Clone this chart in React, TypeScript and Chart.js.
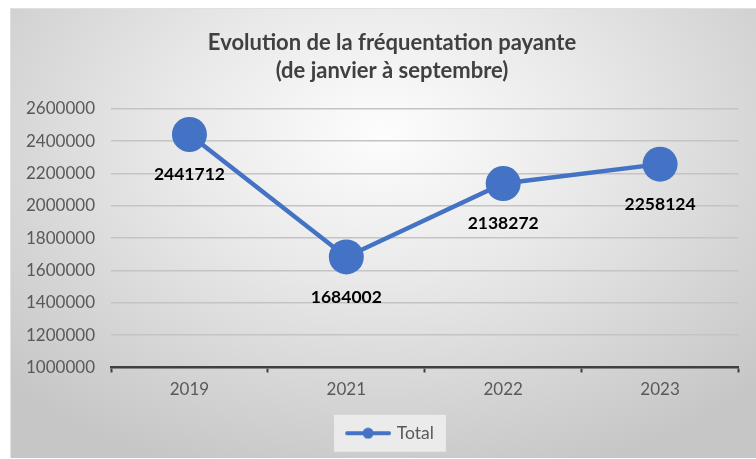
import React, { useEffect, useRef } from "react";
import { Chart, registerables } from "chart.js";

Chart.register(...registerables);

const categories = ["2019", "2021", "2022", "2023"];
const totalValues = [2441712, 1684002, 2138272, 2258124];
const seriesLabel = "Total";
const titleLines = ["Evolution de la fréquentation payante", "(de janvier à septembre)"];
const yMin = 1000000;
const yMax = 2600000;
const yStep = 200000;

const BLUE = "#4472C4";
const FONT = "Lato, 'Open Sans', sans-serif";
const ICON_PAD = 24;
const TITLE_SHIFT = 26;

function makeLegendIcon(): HTMLCanvasElement {
  const c = document.createElement("canvas");
  c.width = 46 + ICON_PAD;
  c.height = 12;
  const ctx = c.getContext("2d")!;
  ctx.strokeStyle = BLUE;
  ctx.lineWidth = 4;
  ctx.lineCap = "round";
  ctx.beginPath();
  ctx.moveTo(ICON_PAD + 2, 6);
  ctx.lineTo(ICON_PAD + 44, 6);
  ctx.stroke();
  ctx.fillStyle = BLUE;
  ctx.beginPath();
  ctx.arc(ICON_PAD + 23, 6, 5.5, 0, Math.PI * 2);
  ctx.fill();
  return c;
}

const dataLabelPlugin = {
  id: "dataLabelsBelow",
  afterDatasetsDraw(chart: any) {
    const ctx = chart.ctx;
    const meta = chart.getDatasetMeta(0);
    ctx.save();
    ctx.font = `bold 17.5px ${FONT}`;
    ctx.fillStyle = "#000000";
    ctx.textAlign = "center";
    ctx.textBaseline = "middle";
    meta.data.forEach((pt: any, i: number) => {
      const v = chart.data.datasets[0].data[i];
      ctx.fillText(String(v), pt.x, pt.y + 40);
    });
    ctx.restore();
  },
};

const titleShiftPlugin = {
  id: "titleShift",
  afterLayout(chart: any) {
    const t = chart.titleBlock;
    if (t) t.left = t.left + TITLE_SHIFT;
  },
};

const legendBgPlugin = {
  id: "legendBg",
  beforeDraw(chart: any) {
    const lg = chart.legend;
    if (!lg || !lg.legendHitBoxes || !lg.legendHitBoxes.length) return;
    const hb = lg.legendHitBoxes[0];
    const ctx = chart.ctx;
    ctx.save();
    ctx.fillStyle = "rgba(240,240,240,0.85)";
    const left = hb.left + ICON_PAD - 14;
    const w = hb.width - ICON_PAD + 26;
    ctx.fillRect(left, hb.top + hb.height / 2 - 18.5, w, 37);
    ctx.restore();
  },
};

export default function App() {
  const ref = useRef<HTMLCanvasElement | null>(null);

  useEffect(() => {
    if (!ref.current) return;
    const icon = makeLegendIcon();
    const chart = new Chart(ref.current, {
      type: "line",
      data: {
        labels: categories,
        datasets: [
          {
            label: seriesLabel,
            data: totalValues,
            borderColor: BLUE,
            backgroundColor: BLUE,
            borderWidth: 4.5,
            pointRadius: 17.5,
            pointHoverRadius: 17.5,
            pointBackgroundColor: BLUE,
            pointBorderWidth: 0,
            pointStyle: "circle",
            tension: 0,
          },
        ],
      },
      options: {
        animation: false,
        responsive: false,
        maintainAspectRatio: false,
        layout: { padding: { left: 0, right: 9, top: 0, bottom: 6 } },
        plugins: {
          title: {
            display: true,
            text: titleLines,
            color: "#404040",
            font: { family: FONT, size: 22, weight: "bold", lineHeight: 1.27 },
            padding: { top: 20, bottom: 24 },
          },
          legend: {
            display: true,
            position: "bottom",
            labels: {
              usePointStyle: true,
              pointStyle: icon as any,
              pointStyleWidth: 64,
              color: "#595959",
              font: { family: FONT, size: 17.5 },
              padding: 10,
            },
          },
          tooltip: { enabled: false },
        },
        scales: {
          x: {
            type: "category",
            offset: true,
            grid: {
              display: true,
              drawOnChartArea: false,
              drawTicks: true,
              tickLength: 5,
              tickWidth: 2,
              tickColor: "#404040",
              offset: true,
            },
            border: { display: true, color: "#404040", width: 2.5 },
            ticks: {
              color: "#595959",
              font: { family: FONT, size: 17 },
              padding: 7,
            },
            afterFit: (scale: any) => {
              scale.height = 47;
            },
          },
          y: {
            min: yMin,
            max: yMax,
            grid: {
              color: "#c4c4c4",
              lineWidth: 1.5,
              drawTicks: false,
            },
            border: { display: false },
            ticks: {
              stepSize: yStep,
              color: "#595959",
              font: { family: FONT, size: 17 },
              padding: 16,
              callback: (v: any) => String(v),
            },
            afterFit: (scale: any) => {
              scale.width = 100;
            },
          },
        },
      },
      plugins: [dataLabelPlugin, legendBgPlugin, titleShiftPlugin],
    });
    return () => chart.destroy();
  }, []);

  return (
    <div
      style={{
        position: "absolute",
        left: 10,
        top: 8,
        width: 746,
        height: 450,
        background:
          "radial-gradient(ellipse 70% 80% at 50% 28%, #fdfdfd 0%, #e9e9e9 40%, #d6d6d6 72%, #c6c6c6 100%)",
        borderTop: "1px solid #e0e0e0",
        borderLeft: "1px solid #e0e0e0",
        boxSizing: "border-box",
      }}
    >
      <canvas ref={ref} width={745} height={449} style={{ display: "block" }} />
    </div>
  );
}
